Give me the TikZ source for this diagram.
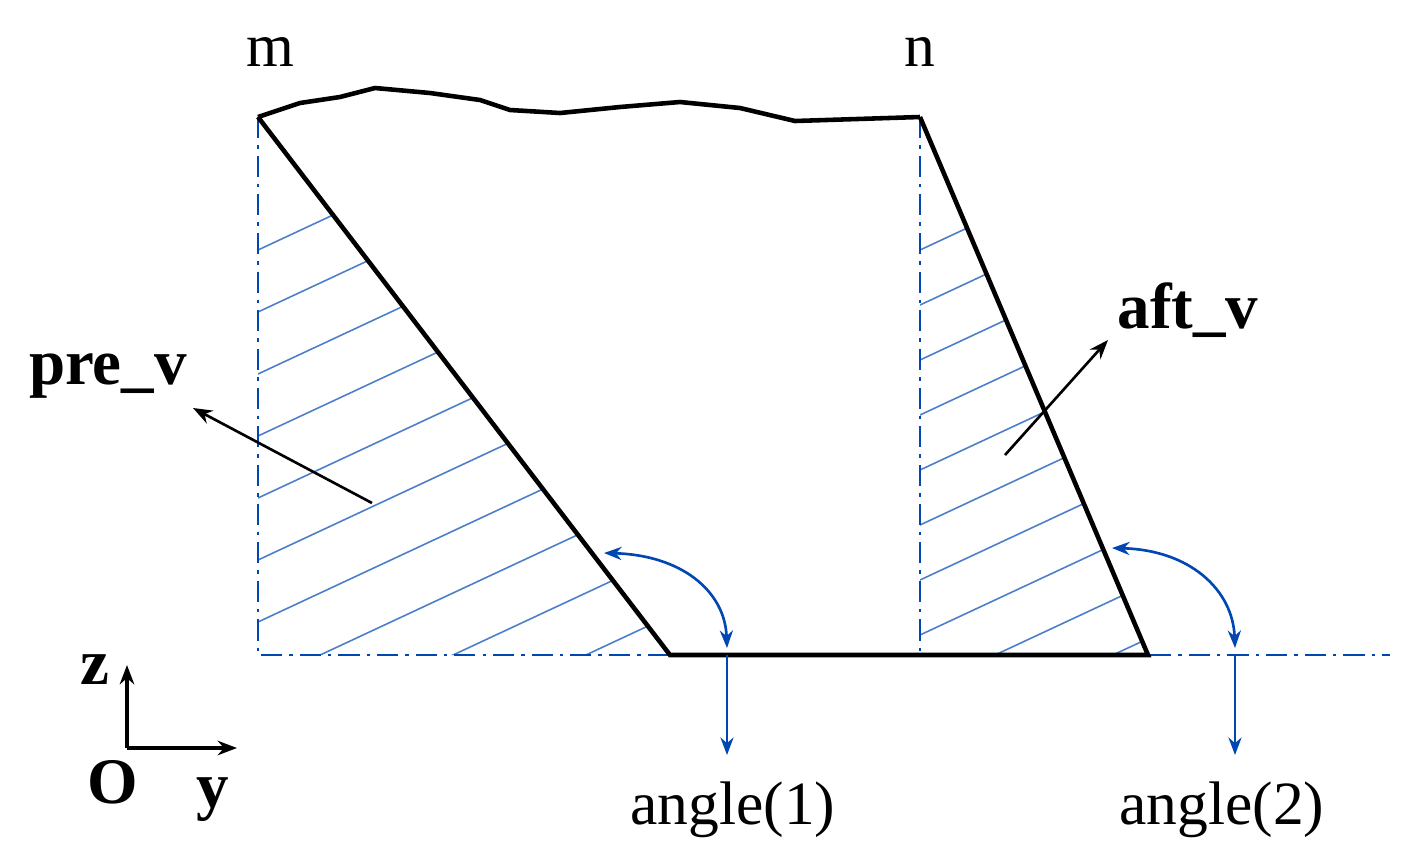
\documentclass[tikz,border=0pt]{standalone}
\usepackage{fontspec}
\setmainfont{Liberation Serif}
\usetikzlibrary{arrows.meta}
\begin{document}
\begin{tikzpicture}[x=0.02cm,y=-0.02cm,
  blk/.style={line width=2.6pt,black},
  dd/.style={blue!60!cyan!70!black,line width=1.4pt,dash pattern=on 12pt off 4pt on 2pt off 4pt},
  hat/.style={blue!60!cyan!70!black!70,line width=0.9pt},
  barrow/.style={blue!60!cyan!70!black,line width=1.2pt,-{Stealth[length=10pt]}},
  karrow/.style={black,line width=1.5pt,-{Stealth[length=11pt]}},
  lbl/.style={font=\fontsize{35}{35}\selectfont},
  blbl/.style={font=\fontsize{37}{37}\selectfont\bfseries}]
\useasboundingbox (0,0) rectangle (1418,860);
\coordinate (m) at (258,117); \coordinate (A) at (670,655);
\coordinate (B) at (1148,655); \coordinate (n) at (920,117);
\coordinate (L) at (258,655); \coordinate (R) at (1390,655);
\coordinate (nb) at (920,655);
% hatching
\begin{scope}
\clip (m) -- (A) -- (L) -- cycle;
\foreach \k in {0,...,9} \draw[hat] (258,{250+\k*62}) -- ++(600,-280);
\end{scope}
\begin{scope}
\clip (n) -- (B) -- (nb) -- cycle;
\foreach \k in {0,...,9} \draw[hat] (920,{250+\k*55}) -- ++(600,-280);
\end{scope}
\draw[dd] (m) -- (L) -- (R);
\draw[dd] (n) -- (nb);
\draw[blk] (m) -- (A) -- (B) -- (n);
\draw[blk,line join=round] (m) -- (300,103) -- (340,97) -- (375,88) -- (430,93) -- (480,100) -- (510,110) -- (560,113) -- (620,107) -- (680,102) -- (740,108) -- (795,121) -- (n);
% angle arcs
\coordinate (a1s) at (727,648); \coordinate (a1e) at (604,553);
\coordinate (a2s) at (1235,648); \coordinate (a2e) at (1112,548);
\draw[blue!60!cyan!70!black,line width=1.5pt,{Stealth[length=10pt]}-{Stealth[length=10pt]}] (a1e) .. controls (680,555) and (725,590) .. (a1s);
\draw[blue!60!cyan!70!black,line width=1.5pt,{Stealth[length=10pt]}-{Stealth[length=10pt]}] (a2e) .. controls (1190,550) and (1233,590) .. (a2s);
\coordinate (d1) at (727,655); \coordinate (d1e) at (727,755);
\coordinate (d2) at (1235,655); \coordinate (d2e) at (1235,755);
\draw[barrow] (d1) -- (d1e);
\draw[barrow] (d2) -- (d2e);
\node[lbl] (t1) at (733,810) {angle(1)};
\node[lbl] (t2) at (1222,810) {angle(2)};
\node[lbl] (tm) at (270,52) {m};
\node[lbl] (tn) at (920,52) {n};
\node[blbl] (pv) at (108,376) {pre\_v};
\node[blbl] (av) at (1188,310) {aft\_v};
\coordinate (p1) at (372,503); \coordinate (p2) at (193,408);
\coordinate (q1) at (1005,455); \coordinate (q2) at (1108,340);
\draw[karrow] (p1) -- (p2);
\draw[karrow] (q1) -- (q2);
% axes
\coordinate (o) at (127,748);
\coordinate (oz) at (127,665); \coordinate (oy) at (237,748);
\draw[karrow,line width=2.4pt] (o) -- (oz);
\draw[karrow,line width=2.4pt] (o) -- (oy);
\node[blbl] (z) at (95,670) {z};
\node[blbl] (O) at (113,782) {O};
\node[blbl] (y) at (213,800) {y};
\end{tikzpicture}
\end{document}
